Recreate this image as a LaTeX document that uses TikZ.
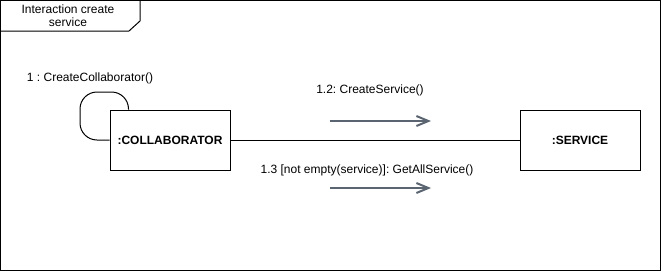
\documentclass[tikz,border=0pt]{standalone}
\usepackage{fontspec}
\setmainfont{Liberation Sans}
\usetikzlibrary{arrows.meta}

\definecolor{msggray}{HTML}{5B6571}
\frenchspacing

\begin{document}
\begin{tikzpicture}[x=1pt, y=-1pt, line width=1pt,
      every node/.style = {font=\fontsize{12}{13}\selectfont, inner sep=0pt},
      lifeobj/.style = {draw, minimum width=120pt, minimum height=60pt,
        font=\fontsize{12}{13}\selectfont\bfseries},
      msg/.style = {draw=msggray, line width=2pt,
        -{Straight Barb[length=12pt, width=10pt]}}]
  \useasboundingbox (0,0) rectangle (661,271);
  % frame and title tab
  \draw (0.5,0.5) rectangle (660.5,270.5);
  \draw (0.5,31) -- (129,31) -- (140,21) -- (140,0.5);
  \node[align=center] (title) at (68,16) {Interaction create\\service};

  % objects
  \node[lifeobj] (collab) at (170,140) {:COLLABORATOR};
  \node[lifeobj] (service) at (580,140) {:SERVICE};
  \draw (collab) -- (service);

  % self message
  \coordinate (loop) at (80,92);
  \draw[rounded corners=17pt] ([xshift=19pt]collab.north west) |- (loop) |- (collab.west);
  \node (m1) at (90,78) {1 : CreateCollaborator()};

  % messages to the service
  \node (m12) at (370,90) {1.2: CreateService()};
  \coordinate (m12s) at (330,121);
  \coordinate (m12e) at (431,121);
  \draw[msg] (m12s) -- (m12e);

  \node (m13) at (367,170) {1.3 [not empty(service)]: GetAllService()};
  \coordinate (m13s) at (330,188);
  \coordinate (m13e) at (431,188);
  \draw[msg] (m13s) -- (m13e);
\end{tikzpicture}
\end{document}
